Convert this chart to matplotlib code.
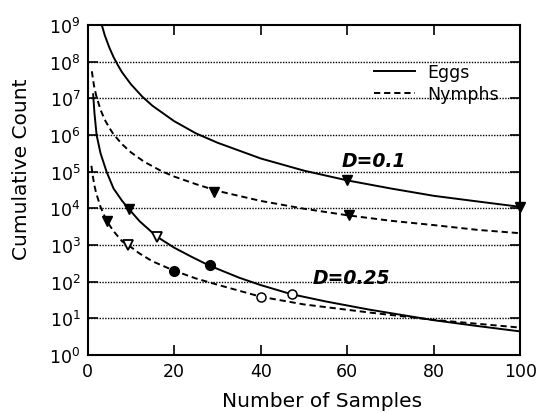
import numpy as np
import matplotlib
matplotlib.use("Agg")
import matplotlib.pyplot as plt
from matplotlib.ticker import FixedLocator, FuncFormatter

# curve values (x = number of samples, y = cumulative count)
eggs_01_x = [3.3, 4, 5, 6, 7, 8, 10, 12.7, 15, 20, 25, 30, 40, 50, 60, 70, 80, 90, 100]
eggs_01_y = [1.0e9, 5.2e8, 2.5e8, 1.35e8, 8.1e7, 5.1e7, 2.45e7, 1.1e7, 6.3e6, 2.4e6,
             1.12e6, 6.2e5, 2.3e5, 1.07e5, 5.8e4, 3.5e4, 2.2e4, 1.55e4, 1.1e4]

nymphs_01_x = [1, 1.5, 2, 3, 4, 5, 6, 8, 10, 13, 17, 20, 25, 30, 40, 50, 60, 70, 80, 90, 100]
nymphs_01_y = [5.5e7, 2.2e7, 1.2e7, 4.9e6, 2.6e6, 1.6e6, 1.05e6, 5.6e5, 3.4e5, 1.9e5,
               1.05e5, 7.4e4, 4.6e4, 3.0e4, 1.6e4, 9.8e3, 6.5e3, 4.6e3, 3.5e3, 2.6e3, 2.1e3]

eggs_025_x = [1.3, 1.6, 2.1, 3, 4.4, 6, 8, 9.6, 12, 16, 20, 24, 28, 35, 40, 47, 55, 65, 80, 90, 100]
eggs_025_y = [1.3e7, 4.0e6, 1.0e6, 3.2e5, 1.0e5, 3.5e4, 1.6e4, 9.5e3, 4.5e3, 1.7e3,
              8.5e2, 4.8e2, 2.8e2, 1.29e2, 81, 46, 29, 17.4, 8.9, 6.2, 4.4]

nymphs_025_x = [0.9, 1.2, 1.6, 2, 3, 4.4, 6, 8, 9.4, 12, 15, 20, 25, 30, 40, 50, 65, 80, 100]
nymphs_025_y = [1.45e5, 7.8e4, 4.2e4, 2.6e4, 1.1e4, 4.6e3, 2.4e3, 1.26e3, 1.0e3, 5.9e2,
                3.6e2, 2.0e2, 1.23e2, 83, 39, 24, 14.5, 9.1, 5.6]

# marker positions
filled_tri_x = [60, 100, 29.2, 60.4, 9.6, 4.4]
filled_tri_y = [5.8e4, 1.1e4, 2.8e4, 6.6e3, 9.5e3, 4.6e3]
open_tri_x = [16.1, 9.4]
open_tri_y = [1.7e3, 1.0e3]
filled_circ_x = [28.2, 20]
filled_circ_y = [2.8e2, 2.0e2]
open_circ_x = [47.2, 40]
open_circ_y = [46, 39]

x_ticks = [0, 20, 40, 60, 80, 100]
y_ticks = [10.0 ** k for k in range(0, 10)]

plt.rcParams['font.family'] = ['DejaVu Sans']
plt.rcParams['mathtext.fontset'] = 'dejavusans'
plt.rcParams['mathtext.default'] = 'regular'

fig = plt.figure(figsize=(5.47, 4.14), dpi=100)
ax = fig.add_axes([0.16, 0.14, 0.7915, 0.797])

dash = (3.2, 2.0)
ax.plot(eggs_01_x, eggs_01_y, color='k', lw=1.4, label='Eggs')
ax.plot(nymphs_01_x, nymphs_01_y, color='k', lw=1.4, dashes=dash, label='Nymphs')
ax.plot(eggs_025_x, eggs_025_y, color='k', lw=1.4)
ax.plot(nymphs_025_x, nymphs_025_y, color='k', lw=1.4, dashes=dash)

ax.plot(filled_tri_x, filled_tri_y, 'v', ms=6.5, color='k', ls='none', clip_on=False)
ax.plot(open_tri_x, open_tri_y, 'v', ms=6.5, mfc='white', mec='k', mew=1.3, ls='none')
ax.plot(filled_circ_x, filled_circ_y, 'o', ms=7, color='k', ls='none')
ax.plot(open_circ_x, open_circ_y, 'o', ms=6.5, mfc='white', mec='k', mew=1.1, ls='none')

ax.set_yscale('log')
ax.set_xlim(0, 100)
ax.set_ylim(1, 1e9)

ax.xaxis.set_major_locator(FixedLocator(x_ticks))
ax.yaxis.set_major_locator(FixedLocator(y_ticks))
ax.yaxis.set_minor_locator(FixedLocator([]))
ax.yaxis.set_major_formatter(FuncFormatter(lambda v, p: r'$10^{%d}$' % round(np.log10(v))))
ax.tick_params(which='major', direction='in', top=True, right=True, length=7,
               width=1.2, labelsize=12.5, pad=5)

for k in range(1, 9):
    ax.axhline(10.0 ** k, color='k', lw=1.0, ls=(0, (1, 1)), zorder=0)

for s in ax.spines.values():
    s.set_linewidth(1.5)

ax.set_xlabel('Number of Samples', fontsize=14.5)
ax.set_ylabel('Cumulative Count', fontsize=14.5)
ax.xaxis.set_label_coords(0.542, -0.11)
ax.yaxis.set_label_coords(-0.13, 0.567)

ax.text(66.2, 2.0e5, 'D=0.1', fontsize=13.5, style='italic', weight='bold',
        ha='center', va='center')
ax.text(60.9, 1.3e2, 'D=0.25', fontsize=13.5, style='italic', weight='bold',
        ha='center', va='center')

ax.legend(loc='upper left', bbox_to_anchor=(0.645, 0.905), frameon=False,
          fontsize=12.5, handlelength=2.4, handletextpad=0.7, labelspacing=0.2,
          borderaxespad=0)

fig.savefig('out.png', dpi=100)
